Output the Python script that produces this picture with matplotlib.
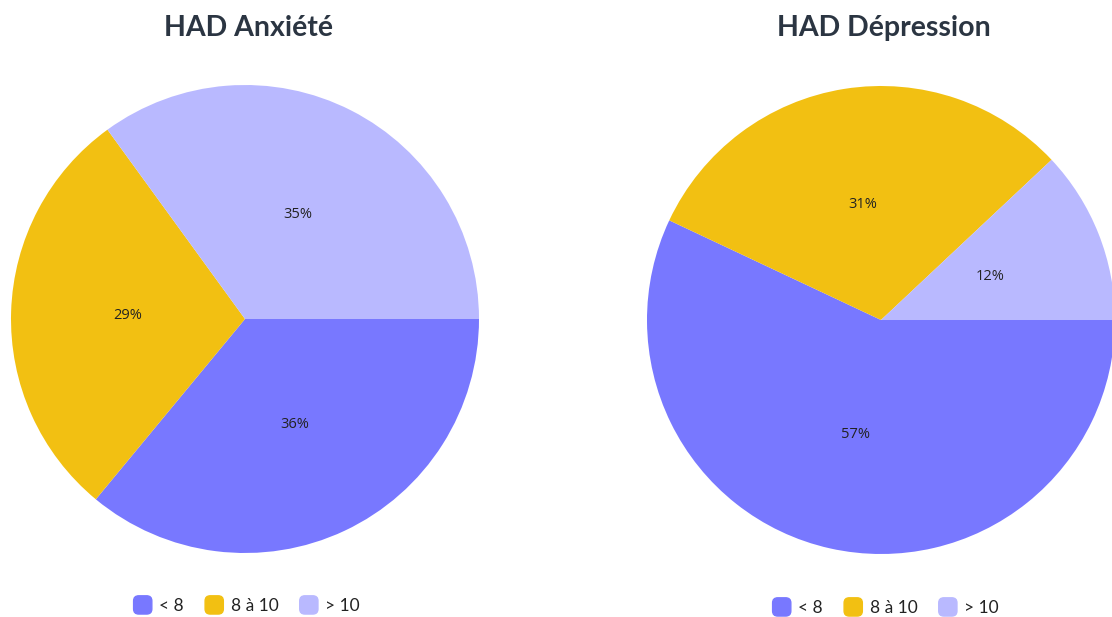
import matplotlib.pyplot as plt
from matplotlib.patches import FancyBboxPatch
from matplotlib.legend_handler import HandlerPatch
import matplotlib.patches as mpatches

# données
categories = ['< 8', '8 à 10', '> 10']
anxiete = [36, 29, 35]
depression = [57, 31, 12]
couleurs = ['#7878FF', '#F2C012', '#B9B9FF']

titres = ['HAD Anxiété', 'HAD Dépression']


# carré arrondi pour la légende
def carre_arrondi(legend, orig_handle, xdescent, ydescent, width, height, fontsize):
    s = height * 1.5
    return FancyBboxPatch((-xdescent + (width - s) / 2, -ydescent + (height - s) / 2), s, s,
                          boxstyle='round,pad=0,rounding_size=%f' % (s * 0.28),
                          mutation_aspect=1)


fig = plt.figure(figsize=(11.12, 6.17), dpi=100)
W, H = 1112, 617

# positions des camemberts en pixels (centre x, centre y, rayon)
positions = [(245, 319, 234), (881, 320, 234)]
legendes_y = [606, 608]
legendes_x = [247, 886]

for i, valeurs in enumerate([anxiete, depression]):
    cx, cy, r = positions[i]
    ax = fig.add_axes([(cx - r) / W, 1 - (cy + r) / H, 2 * r / W, 2 * r / H])
    ax.pie(valeurs, colors=couleurs, startangle=0, counterclock=False,
           autopct='%d%%', pctdistance=0.5, radius=1,
           textprops={'fontsize': 10.5, 'color': '#222222', 'family': 'Open Sans'})
    ax.set_xlim(-1, 1)
    ax.set_ylim(-1, 1)
    ax.set_aspect('auto')
    ax.axis('off')

    fig.text((cx + 3) / W, 1 - 28 / H, titres[i], ha='center', va='center',
             fontsize=20.5, fontweight='bold', family='Lato', color='#2B3542')

    handles = [mpatches.Patch(color=c) for c in couleurs]
    fig.legend(handles, categories, loc='center', ncol=3,
               bbox_to_anchor=(legendes_x[i] / W, 1 - legendes_y[i] / H),
               frameon=False, prop={'family': 'Lato', 'size': 12.5},
               handler_map={mpatches.Patch: HandlerPatch(patch_func=carre_arrondi)},
               handlelength=1.0, handletextpad=0.45, columnspacing=1.25,
               labelcolor='#222222')

fig.savefig('out.png', dpi=100)
